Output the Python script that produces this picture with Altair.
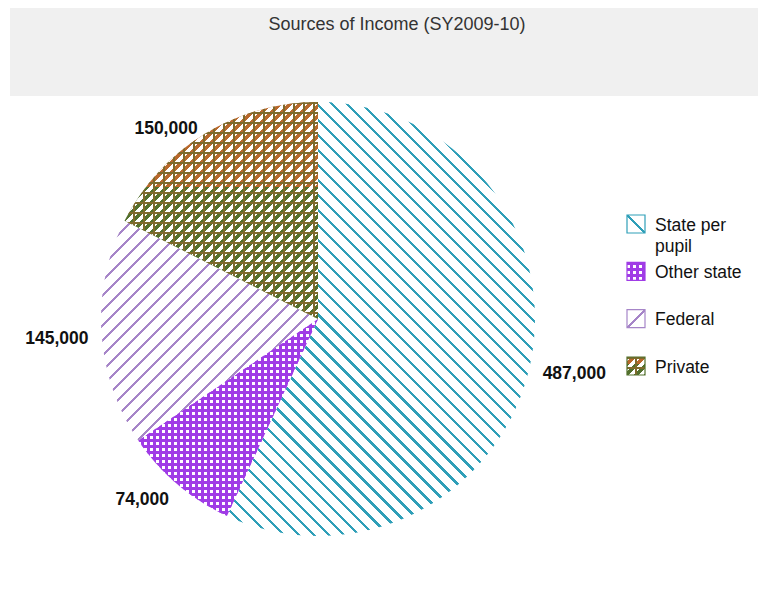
import math
import altair as alt
import pandas as pd

# ---------------- data ----------------
categories = ["State per pupil", "Other state", "Federal", "Private"]
values = [487000, 74000, 145000, 150000]
title_text = "Sources of Income (SY2009-10)"

df = pd.DataFrame({"cat": categories, "value": values, "idx": list(range(len(categories)))})

# ---------------- styling ----------------
W, H = 750, 560
CX, CY = 310, 311          # pie centre inside the view
R = 217                    # pie radius
LABEL_R = 230
FONT = "Arial, Liberation Sans, sans-serif"

TEAL = "#2f9fb8"
VIOLET = "#a685c8"
PURPLE = "#a03ce6"
ORANGE = "#b8682c"
GREEN = "#52702c"
MID = "#7e6a2c"
WHITE = "#ffffff"
CLEAR = "rgba(255,255,255,0)"

DIRS = {"h": (1.0, 0.0), "v": (0.0, 1.0), "\\": (1.0, 1.0), "/": (1.0, -1.0)}


def stripes(w, h, d, period, width, line, gap, phase=0.0):
    """Hard-stop linear gradient that draws stripes in pixel space for a box w x h."""
    sx, sy = DIRS[d]
    L = math.hypot(sx, sy)
    sx, sy = sx / L, sy / L
    nx, ny = -sy, sx
    proj = [x * nx + y * ny for x, y in ((0, 0), (w, 0), (0, h), (w, h))]
    m0, m1 = min(proj), max(proj)
    D = m1 - m0
    K = w * w * nx * nx + h * h * ny * ny
    lam = D / K
    vx, vy = lam * w * nx, lam * h * ny
    mu = m0 / D
    x1, y1 = mu * vx, mu * vy
    stops = [(0.0, gap)]
    k = math.floor((m0 - phase) / period) - 1
    while k * period + phase < m1:
        s = k * period + phase
        a = min(max((s - m0) / D, 0.0), 1.0)
        b = min(max((s + width - m0) / D, 0.0), 1.0)
        if b > a:
            stops += [(a, gap), (a, line), (b, line), (b, gap)]
        k += 1
    stops.append((1.0, gap))
    return {
        "gradient": "linear",
        "x1": round(x1, 5), "y1": round(y1, 5),
        "x2": round(x1 + vx, 5), "y2": round(y1 + vy, 5),
        "stops": [{"offset": round(o, 5), "color": c} for o, c in stops],
    }


def two_tone(split=0.39):
    return {"gradient": "linear", "x1": 0, "y1": 0, "x2": 0, "y2": 1,
            "stops": [{"offset": 0, "color": ORANGE}, {"offset": split, "color": ORANGE},
                      {"offset": split, "color": GREEN}, {"offset": 1, "color": GREEN}]}


def wedge_bbox(a0, a1, r):
    pts = [(0.0, 0.0)]
    for a in (a0, a1):
        pts.append((r * math.sin(a), -r * math.cos(a)))
    k = math.ceil(a0 / (math.pi / 2))
    while k * math.pi / 2 < a1:
        a = k * math.pi / 2
        pts.append((r * math.sin(a), -r * math.cos(a)))
        k += 1
    xs = [p[0] for p in pts]
    ys = [p[1] for p in pts]
    return max(xs) - min(xs), max(ys) - min(ys)


total = float(sum(values))
pie_boxes = {}
acc = 0.0
for c, v in zip(categories, values):
    a0 = acc / total * 2 * math.pi
    acc += v
    a1 = acc / total * 2 * math.pi
    pie_boxes[c] = wedge_bbox(a0, a1, R)
leg_boxes = {c: (18.0, 18.0) for c in categories}

pie_patterns = {
    "State per pupil": [lambda w, h: stripes(w, h, "\\", 10.6, 2.2, TEAL, WHITE)],
    "Other state": [lambda w, h: stripes(w, h, "h", 6, 3.4, PURPLE, WHITE),
                    lambda w, h: stripes(w, h, "v", 6, 3.4, PURPLE, CLEAR)],
    "Federal": [lambda w, h: stripes(w, h, "/", 10.6, 2.2, VIOLET, WHITE)],
    "Private": [lambda w, h: two_tone(),
                lambda w, h: stripes(w, h, "/", 7.07, 3.3, WHITE, CLEAR),
                lambda w, h: stripes(w, h, "h", 10, 1.6, MID, CLEAR),
                lambda w, h: stripes(w, h, "v", 10, 1.6, MID, CLEAR)],
}
leg_patterns = {
    "State per pupil": [lambda w, h: stripes(w, h, "\\", 100, 2, TEAL, WHITE, phase=-1)],
    "Other state": [lambda w, h: stripes(w, h, "h", 6, 3, PURPLE, WHITE),
                    lambda w, h: stripes(w, h, "v", 6, 3, PURPLE, CLEAR)],
    "Federal": [lambda w, h: stripes(w, h, "/", 100, 2, VIOLET, WHITE, phase=18 / math.sqrt(2) - 1)],
    "Private": pie_patterns["Private"],
}
outline = {"State per pupil": TEAL, "Other state": PURPLE, "Federal": VIOLET, "Private": GREEN}


def fill_for(layer_i, patterns, boxes):
    conds = []
    for c in categories:
        pats = patterns[c]
        if layer_i < len(pats):
            w, h = boxes[c]
            val = pats[layer_i](w, h)
        else:
            val = CLEAR
        conds.append({"test": f"datum.cat === '{c}'", "value": val})
    return {"condition": conds, "value": CLEAR}


n_layers = max(len(p) for p in pie_patterns.values())

base = alt.Chart(df)
theta = alt.Theta("value:Q", stack=True)
order = alt.Order("idx:Q")

band = alt.Chart(pd.DataFrame({"b": [0]})).mark_rect(color="#f0f0f0").encode(
    x=alt.value(2), x2=alt.value(W), y=alt.value(0), y2=alt.value(88)
)
title = alt.Chart(pd.DataFrame({"t": [title_text]})).mark_text(
    fontSize=18, font=FONT, color="#333333"
).encode(x=alt.value(389), y=alt.value(17), text="t:N")

pie = [
    base.mark_arc(outerRadius=R).encode(
        theta=theta, order=order, x=alt.value(CX), y=alt.value(CY),
        fill=fill_for(i, pie_patterns, pie_boxes),
    )
    for i in range(n_layers)
]

labels = base.transform_joinaggregate(total="sum(value)").mark_text(
    radius=LABEL_R, fontSize=17.5, fontWeight="bold", font=FONT, color="#111111", dy=6,
    align=alt.ExprRef("datum.value_start + datum.value_end < datum.total ? 'left' : 'right'"),
).encode(
    theta=theta, order=order, x=alt.value(CX), y=alt.value(CY),
    text=alt.Text("value:Q", format=",.0f"),
)

ly = alt.Y("cat:N", sort=categories, axis=None,
           scale=alt.Scale(type="point", domain=categories, range=[216, 358], padding=0))

legend_syms = [
    base.mark_square(size=324, opacity=1).encode(
        x=alt.value(628), y=ly, fill=fill_for(i, leg_patterns, leg_boxes)
    )
    for i in range(n_layers)
]
legend_outline = base.mark_square(size=324, filled=False, opacity=1, strokeWidth=1.2).encode(
    x=alt.value(628), y=ly,
    stroke={"condition": [{"test": f"datum.cat === '{c}'", "value": outline[c]} for c in categories],
            "value": "#888888"},
)
legend_text = base.transform_calculate(
    lab="replace(datum.cat, 'State per ', 'State per\\n')"
).mark_text(
    align="left", baseline="alphabetic", dy=6.5, fontSize=17.5, font=FONT,
    color="#111111", lineBreak="\n", lineHeight=21,
).encode(x=alt.value(647), y=ly, text="lab:N")

chart = alt.layer(
    band, title, *pie, labels, *legend_syms, legend_outline, legend_text
).properties(
    width=W, height=H,
    autosize=alt.AutoSizeParams(type="none"),
    padding={"left": 0, "top": 0, "right": 0, "bottom": 0},
    background="white",
).configure_view(strokeWidth=0)

chart.save("out.html", embed_options={"renderer": "svg", "actions": False})
